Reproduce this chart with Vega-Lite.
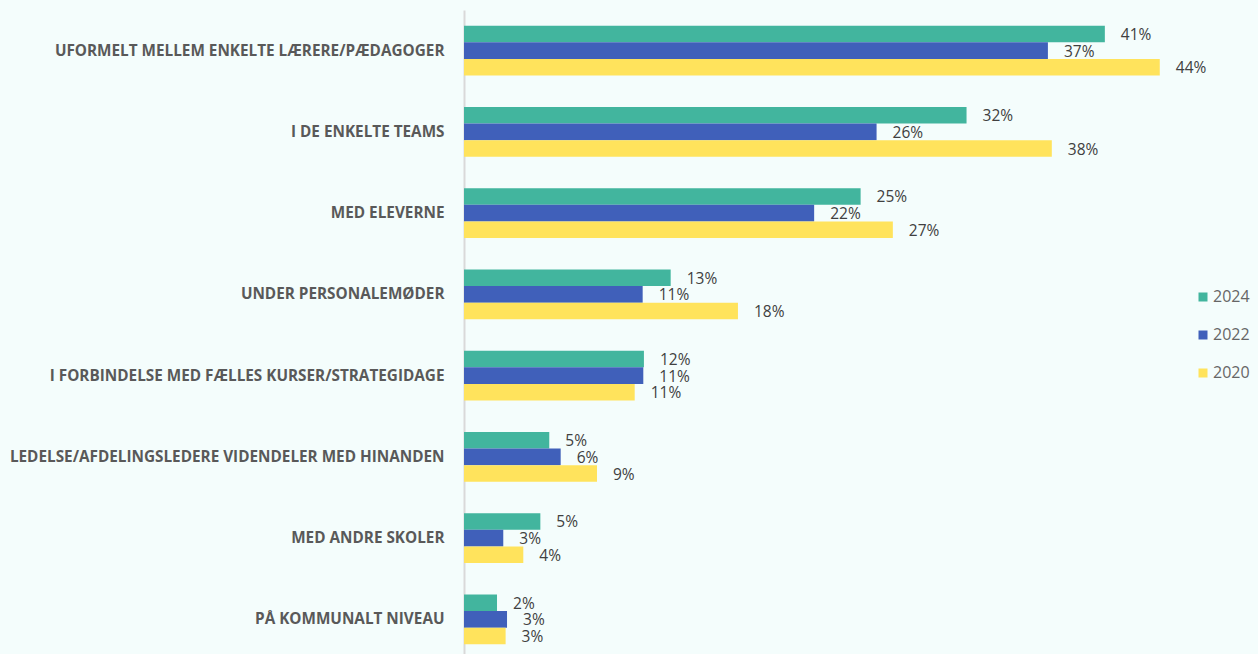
{
  "$schema": "https://vega.github.io/schema/vega-lite/v6.json",
  "width": 751,
  "height": 644,
  "autosize": {"type": "none"},
  "padding": {"left": 464, "top": 10, "right": 43, "bottom": 0},
  "background": "#f4fdfc",
  "config": {"view": {"stroke": null}, "font": "Open Sans"},
  "data": {
    "values": [
      {"category": "UFORMELT MELLEM ENKELTE LÆRERE/PÆDAGOGER", "year": "2024", "value": 40.96, "label": "41%"},
      {"category": "UFORMELT MELLEM ENKELTE LÆRERE/PÆDAGOGER", "year": "2022", "value": 37.32, "label": "37%"},
      {"category": "UFORMELT MELLEM ENKELTE LÆRERE/PÆDAGOGER", "year": "2020", "value": 44.47, "label": "44%"},
      {"category": "I DE ENKELTE TEAMS", "year": "2024", "value": 32.12, "label": "32%"},
      {"category": "I DE ENKELTE TEAMS", "year": "2022", "value": 26.37, "label": "26%"},
      {"category": "I DE ENKELTE TEAMS", "year": "2020", "value": 37.57, "label": "38%"},
      {"category": "MED ELEVERNE", "year": "2024", "value": 25.35, "label": "25%"},
      {"category": "MED ELEVERNE", "year": "2022", "value": 22.38, "label": "22%"},
      {"category": "MED ELEVERNE", "year": "2020", "value": 27.41, "label": "27%"},
      {"category": "UNDER PERSONALEMØDER", "year": "2024", "value": 13.21, "label": "13%"},
      {"category": "UNDER PERSONALEMØDER", "year": "2022", "value": 11.42, "label": "11%"},
      {"category": "UNDER PERSONALEMØDER", "year": "2020", "value": 17.51, "label": "18%"},
      {"category": "I FORBINDELSE MED FÆLLES KURSER/STRATEGIDAGE", "year": "2024", "value": 11.5, "label": "12%"},
      {"category": "I FORBINDELSE MED FÆLLES KURSER/STRATEGIDAGE", "year": "2022", "value": 11.46, "label": "11%"},
      {"category": "I FORBINDELSE MED FÆLLES KURSER/STRATEGIDAGE", "year": "2020", "value": 10.91, "label": "11%"},
      {"category": "LEDELSE/AFDELINGSLEDERE VIDENDELER MED HINANDEN", "year": "2024", "value": 5.45, "label": "5%"},
      {"category": "LEDELSE/AFDELINGSLEDERE VIDENDELER MED HINANDEN", "year": "2022", "value": 6.18, "label": "6%"},
      {"category": "LEDELSE/AFDELINGSLEDERE VIDENDELER MED HINANDEN", "year": "2020", "value": 8.5, "label": "9%"},
      {"category": "MED ANDRE SKOLER", "year": "2024", "value": 4.88, "label": "5%"},
      {"category": "MED ANDRE SKOLER", "year": "2022", "value": 2.51, "label": "3%"},
      {"category": "MED ANDRE SKOLER", "year": "2020", "value": 3.79, "label": "4%"},
      {"category": "PÅ KOMMUNALT NIVEAU", "year": "2024", "value": 2.11, "label": "2%"},
      {"category": "PÅ KOMMUNALT NIVEAU", "year": "2022", "value": 2.75, "label": "3%"},
      {"category": "PÅ KOMMUNALT NIVEAU", "year": "2020", "value": 2.66, "label": "3%"}
    ]
  },
  "encoding": {
    "y": {
      "field": "category",
      "type": "nominal",
      "sort": null,
      "scale": {"range": [0, 650], "paddingInner": 0.385, "paddingOuter": 0.1925},
      "axis": {
        "title": null,
        "ticks": false,
        "labelPadding": 20,
        "labelFont": "Open Sans",
        "labelFontWeight": "bold",
        "labelFontSize": 15.3,
        "labelColor": "#595959",
        "labelLimit": 0,
        "domainColor": "#d9d9d9",
        "domainWidth": 2
      }
    },
    "yOffset": {"field": "year", "type": "nominal", "sort": ["2024", "2022", "2020"]},
    "x": {"field": "value", "type": "quantitative", "scale": {"domain": [0, 48]}, "axis": null}
  },
  "layer": [
    {
      "mark": {"type": "bar"},
      "encoding": {
        "color": {
          "field": "year",
          "type": "nominal",
          "sort": ["2024", "2022", "2020"],
          "scale": {"domain": ["2024", "2022", "2020"], "range": ["#42b59e", "#4060ba", "#ffe35c"]},
          "legend": {
            "title": null,
            "orient": "none",
            "legendX": 731,
            "legendY": 279,
            "padding": 0,
            "symbolType": "square",
            "symbolSize": 81,
            "symbolStrokeWidth": 0,
            "symbolOpacity": 1,
            "labelFontSize": 16,
            "labelColor": "#666666",
            "labelOffset": 2,
            "rowPadding": 22
          }
        }
      }
    },
    {
      "mark": {"type": "text", "align": "left", "baseline": "middle", "dx": 16, "dy": 1, "fontSize": 15.5, "color": "#404040"},
      "encoding": {"text": {"field": "label"}}
    }
  ]
}
